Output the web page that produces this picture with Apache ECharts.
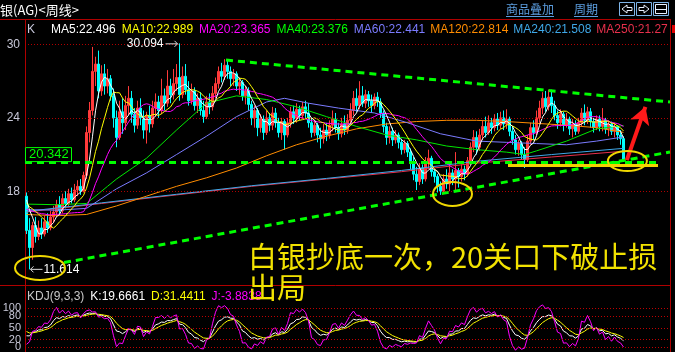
<!DOCTYPE html>
<html><head><meta charset="utf-8">
<script src="https://cdn.jsdelivr.net/npm/echarts@6/dist/echarts.min.js"></script>
<style>html,body{margin:0;padding:0;background:#000;overflow:hidden}#c{width:675px;height:352px}</style>
</head><body><div id="c"></div>
<script>
// ---------------- DATA ----------------
// weekly candles: [open, close, low, high]
const candles = [
[17.6,14.8,14.5,17.9],[14.8,13.4,11.614,15.8],[13.4,15.2,12.4,15.5],[15.2,14.3,13.8,15.9],[14.3,15.0,14.0,15.6],
[15.0,14.5,14.1,15.8],[14.5,15.5,14.3,16.0],[15.5,15.0,14.6,16.2],[15.0,15.9,14.8,16.4],[15.9,16.3,15.4,16.8],
[16.3,16.9,15.9,17.3],[16.9,16.4,16.1,17.6],[16.4,17.4,16.2,17.8],[17.4,17.0,16.6,18.0],[17.0,17.8,16.8,18.2],
[17.8,17.3,17.0,18.3],[17.3,18.1,17.1,18.6],[18.1,18.4,17.6,18.9],[18.4,18.0,17.7,19.0],[18.0,19.3,17.9,19.6],
[19.3,22.8,19.0,23.3],[22.8,24.6,22.0,25.3],[24.6,27.8,24.2,29.8],[27.8,28.4,26.6,29.0],[28.4,26.2,25.6,29.5],
[26.2,27.6,25.8,28.3],[27.6,26.6,25.9,28.4],[26.6,27.2,26.0,28.0],[27.2,25.8,25.4,27.5],[25.8,24.0,23.2,26.4],
[24.0,22.4,21.6,24.6],[22.4,24.5,22.2,25.4],[24.5,23.6,22.7,25.6],[23.6,25.0,23.0,25.8],[25.0,25.6,24.2,26.6],
[25.6,24.3,23.6,26.2],[24.3,23.4,22.8,24.8],[23.4,24.8,23.1,25.4],[24.8,24.0,23.4,25.6],[24.0,23.0,22.3,24.6],
[23.0,24.2,21.9,24.5],[24.2,23.5,22.8,25.0],[23.5,24.8,23.2,25.4],[24.8,25.3,24.1,26.0],[25.3,24.6,24.0,25.8],
[24.6,25.8,24.3,27.2],[25.8,25.2,24.6,26.4],[25.2,26.6,24.9,27.9],[26.6,25.9,25.2,27.2],[25.9,26.8,25.5,28.0],
[26.8,27.3,26.2,28.4],[27.3,25.9,25.4,30.094],[25.9,27.4,25.6,28.2],[27.4,26.3,25.9,28.4],[26.3,25.4,25.0,27.0],
[25.4,26.2,25.1,26.8],[26.2,25.0,24.6,26.5],[25.0,25.6,24.4,26.0],[25.6,24.6,24.2,26.1],[24.6,24.1,23.6,25.4],
[24.1,25.3,23.9,25.8],[25.3,24.9,24.3,26.0],[24.9,26.0,24.6,26.6],[26.0,26.8,25.6,27.3],[26.8,27.8,26.4,28.2],
[27.8,27.4,26.9,28.5],[27.4,28.3,27.1,28.8],[28.3,27.8,27.2,28.7],[27.8,27.2,26.6,28.2],[27.2,27.6,26.6,28.0],
[27.6,26.6,26.2,27.8],[26.6,26.9,25.9,27.3],[26.9,25.8,25.4,27.1],[25.8,26.2,25.1,26.6],[26.2,25.1,24.6,26.5],
[25.1,24.0,23.4,25.4],[24.0,24.6,23.2,25.0],[24.6,23.2,22.5,24.8],[23.2,23.9,22.8,24.3],[23.9,22.8,22.2,24.2],
[22.8,24.0,22.6,24.6],[24.0,23.4,22.9,24.4],[23.4,24.4,23.0,24.9],[24.4,23.6,23.2,24.8],[23.6,22.8,22.4,24.0],
[22.8,23.7,22.2,24.0],[23.7,22.6,21.4,23.9],[22.6,23.6,22.4,24.0],[23.6,24.5,23.2,24.9],[24.5,23.9,23.5,25.0],
[23.9,24.7,23.6,25.2],[24.7,24.2,23.8,25.0],[24.2,24.9,23.9,25.3],[24.9,24.4,24.0,25.4],[24.4,23.6,23.2,25.2],
[23.6,22.8,22.4,24.0],[22.8,23.4,22.5,23.8],[23.4,22.6,22.0,23.6],[22.6,22.3,21.5,23.2],[22.3,23.0,21.9,23.5],
[23.0,22.6,22.1,23.6],[22.6,23.4,22.3,23.8],[23.4,23.9,22.9,24.6],[23.9,23.2,22.8,24.4],[23.2,22.7,22.2,23.6],
[22.7,23.5,22.4,24.0],[23.5,23.0,22.6,24.2],[23.0,23.8,22.7,24.3],[23.8,24.6,23.5,25.2],[24.6,25.6,24.2,26.2],
[25.6,25.0,24.5,26.4],[25.0,25.8,24.7,27.0],[25.8,25.2,24.9,26.6],[25.2,25.9,24.8,26.3],[25.9,25.4,24.9,26.2],
[25.4,25.0,24.4,25.9],[25.0,25.7,24.7,26.0],[25.7,25.3,24.9,26.1],[25.3,24.4,24.0,25.6],[24.4,23.3,22.8,24.6],
[23.3,22.4,21.8,23.6],[22.4,22.9,21.9,23.3],[22.9,22.2,21.7,23.2],[22.2,22.6,21.9,23.0],[22.6,22.0,21.5,22.8],
[22.0,21.4,21.0,22.3],[21.4,21.9,21.1,22.2],[21.9,21.2,20.8,22.1],[21.2,20.4,19.8,21.5],[20.4,19.4,18.9,20.8],
[19.4,18.8,18.1,20.0],[18.8,19.9,18.5,20.3],[19.9,19.0,18.6,20.2],[19.0,20.3,18.8,20.8],[20.3,20.7,19.8,21.4],
[20.7,19.6,19.2,20.9],[19.6,19.2,18.7,19.8],[19.2,18.4,17.9,19.4],[18.4,18.0,17.7,18.8],[18.0,19.0,17.8,19.4],
[19.0,18.6,18.2,19.8],[18.6,19.5,18.0,20.4],[19.5,19.0,18.5,19.8],[19.0,19.7,18.1,21.2],[19.7,19.2,18.3,19.9],
[19.2,19.8,18.8,20.2],[19.8,19.4,18.9,20.1],[19.4,20.5,19.2,20.8],[20.5,21.6,20.2,22.0],[21.6,22.4,21.2,23.0],
[22.4,21.6,21.0,22.9],[21.6,22.6,21.3,23.1],[22.6,23.3,22.2,23.8],[23.3,22.8,22.4,24.1],[22.8,23.6,22.6,24.2],
[23.6,23.2,22.7,24.0],[23.2,23.9,22.9,24.3],[23.9,23.4,23.0,24.4],[23.4,24.0,23.1,24.5],[24.0,23.5,23.0,24.6],
[23.5,23.9,23.1,24.7],[23.9,22.9,22.5,24.1],[22.9,22.2,21.8,23.3],[22.2,21.4,21.0,22.6],[21.4,21.9,20.9,22.2],
[21.9,21.0,20.6,22.1],[21.0,20.6,19.9,21.6],[20.6,22.1,20.4,22.6],[22.1,23.2,21.8,23.6],[23.2,22.8,22.2,23.8],
[22.8,24.0,22.6,24.6],[24.0,24.8,23.6,25.4],[24.8,25.6,24.3,26.1],[25.6,24.9,24.5,26.2],[24.9,25.7,24.6,26.3],
[25.7,25.0,24.4,26.3],[25.0,24.2,23.8,25.4],[24.2,23.6,23.1,24.6],[23.6,24.3,23.3,24.7],[24.3,23.4,22.9,24.5],
[23.4,23.9,23.2,24.4],[23.9,23.1,22.6,24.1],[23.1,23.5,22.4,23.9],[23.5,22.9,22.6,23.8],[22.9,23.6,22.7,24.0],
[23.6,24.4,23.3,24.8],[24.4,23.8,23.4,25.1],[23.8,24.5,23.5,24.9],[24.5,23.7,23.2,24.8],[23.7,23.2,22.8,24.0],
[23.2,23.9,23.0,24.2],[23.9,23.3,22.9,24.2],[23.3,23.8,22.9,24.8],[23.8,23.1,22.7,24.0],[23.1,23.5,22.5,23.8],
[23.5,22.9,22.6,23.7],[22.9,23.3,22.4,23.6],[23.3,22.6,22.2,23.4],[22.6,22.3,21.8,23.0],[22.3,20.6,20.4,22.5]
];
// closes of the 19 weeks before the first visible candle (seed for short MAs)
const preCloses = [16.2,15.8,16.0,16.4,15.7,15.9,16.3,16.1,15.9,16.2,16.6,16.9,16.4,17.0,17.1,17.6,18.1,17.9,18.1];
// long moving averages: [week index, value]
const ma40 = [[0,16.95],[10,16.9],[20,17.0],[27,18.4],[30,19.0],[40,20.7],[50,23.0],[60,25.2],[70,25.8],[80,25.5],[90,24.9],[100,24.1],[110,23.3],[120,22.6],[130,22.2],[140,21.7],[150,21.4],[160,21.2],[166,21.0],[170,21.3],[180,22.1],[190,23.1],[199,23.376]];
const ma60 = [[0,16.5],[10,16.45],[20,16.6],[30,18.2],[40,19.5],[50,21.0],[60,22.5],[70,24.1],[80,25.3],[86,25.6],[94,25.2],[104,24.8],[116,24.4],[127,23.6],[138,22.7],[150,22.1],[160,22.0],[170,21.9],[180,21.8],[190,22.1],[199,22.441]];
const ma120 = [[0,16.1],[10,16.0],[20,16.1],[30,16.8],[40,17.6],[50,18.4],[60,19.1],[70,19.9],[80,20.9],[90,21.8],[100,22.5],[110,23.1],[120,23.5],[130,23.7],[140,23.8],[150,23.8],[160,23.7],[170,23.55],[180,23.4],[190,23.2],[199,22.814]];
const ma240 = [[0,16.35],[25,17.05],[50,17.75],[75,18.45],[100,19.05],[125,19.7],[150,20.45],[175,21.0],[199,21.508]];
const ma250 = [[0,16.3],[25,17.0],[50,17.7],[75,18.4],[100,19.0],[125,19.6],[150,20.3],[175,20.8],[199,21.27]];
const kdjSeed = [40, 46];           // K, D before first week
const priceTicks = [18, 24, 30];
const kdjTicks = [0, 20, 50, 80, 100];
const supportLevel = 20.342;
const highValue = 30.094, lowValue = 11.614;
const legendItems = [
  ['K', '#c8c8dc'], ['MA5:22.496', '#ffffff'], ['MA10:22.989', '#ffff00'], ['MA20:23.365', '#ff00ff'],
  ['MA40:23.376', '#00ff00'], ['MA60:22.441', '#7b7bff'], ['MA120:22.814', '#ff8c00'],
  ['MA240:21.508', '#3fa8e8'], ['MA250:21.27', '#e8304c']
];
const kdjLegend = [['KDJ(9,3,3)', '#c8c8c8'], ['K:19.6661', '#ffffff'], ['D:31.4411', '#ffff00'], ['J:-3.8838', '#ff00ff']];
const titleText = '银(AG)<周线>';
const noteText = '白银抄底一次，20关口下破止损\n出局';
const padWeeks = 15;

// ---------------- DERIVED ----------------
const nCat = candles.length + padWeeks;
const categories = Array.from({length: nCat}, (_, i) => String(i + 1));
const closes = candles.map(c => c[1]);
const allCloses = preCloses.concat(closes);
function movingAvg(n) {
  const out = [];
  for (let i = 0; i < closes.length; i++) {
    const j = i + preCloses.length;
    if (j - n + 1 < 0) continue;
    let s = 0;
    for (let k = j - n + 1; k <= j; k++) s += allCloses[k];
    out.push([i, s / n]);
  }
  return out;
}
function calcKDJ() {
  let K = kdjSeed[0], D = kdjSeed[1];
  const ks = [], ds = [], js = [];
  for (let i = 0; i < candles.length; i++) {
    let lo = Infinity, hi = -Infinity;
    for (let k = Math.max(0, i - 8); k <= i; k++) { lo = Math.min(lo, candles[k][2]); hi = Math.max(hi, candles[k][3]); }
    const rsv = hi > lo ? (candles[i][1] - lo) / (hi - lo) * 100 : 50;
    K = K * 2 / 3 + rsv / 3; D = D * 2 / 3 + K / 3;
    ks.push([i, K]); ds.push([i, D]); js.push([i, 3 * K - 2 * D]);
  }
  return {ks, ds, js};
}
const kdj = calcKDJ();
const hiIdx = candles.findIndex(c => c[3] === highValue);
const loIdx = candles.findIndex(c => c[2] === lowValue);

// ---------------- CHART ----------------
const chart = echarts.init(document.getElementById('c'));
const lineS = (name, data, color, z) => ({
  name, type: 'line', data, xAxisIndex: 1, yAxisIndex: 0, symbol: 'none', smooth: false,
  lineStyle: {color, width: 1}, silent: true, animation: false, z: z || 3
});
const green = '#00ff00';
const dash = {color: green, width: 3, type: [7, 5]};
chart.setOption({
  backgroundColor: '#000',
  animation: false,
  grid: [
    {left: 25, width: 645, top: 21, height: 264},
    {left: 25, width: 645, top: 287, height: 65}
  ],
  xAxis: [
    {type: 'category', gridIndex: 0, data: categories, boundaryGap: true, show: false},
    {type: 'value', gridIndex: 0, min: -0.5, max: nCat - 0.5, show: false},
    {type: 'value', gridIndex: 1, min: -0.5, max: nCat - 0.5, show: false}
  ],
  yAxis: [
    {type: 'value', gridIndex: 0, min: 10.335, max: 31.92, splitLine: {show: false},
     axisLine: {show: false}, axisTick: {show: false},
     axisLabel: {customValues: priceTicks, hideOverlap: false, color: '#c8c8d8', fontSize: 12, fontFamily: 'Liberation Sans', margin: 5}},
    {type: 'value', gridIndex: 1, min: -12, max: 154.6, splitLine: {show: false},
     axisLine: {show: false}, axisTick: {show: false}, axisLabel: {show: false}}
  ],
  series: [
    {type: 'line', name: 'grid', xAxisIndex: 1, yAxisIndex: 0, data: [], silent: true, z: 1,
     markLine: {silent: true, symbol: 'none', label: {show: false},
       lineStyle: {color: '#b00000', width: 1, type: [1, 2]},
       data: priceTicks.map(v => ({yAxis: v}))}},
    {type: 'line', name: 'kgrid', xAxisIndex: 2, yAxisIndex: 1, data: [], silent: true, z: 1,
     markLine: {silent: true, symbol: 'none', label: {show: false},
       lineStyle: {color: '#c00000', width: 1, type: [1, 2]},
       data: kdjTicks.map(v => ({yAxis: v}))}},
    {type: 'candlestick', name: 'K', xAxisIndex: 0, yAxisIndex: 0, data: candles, barWidth: 2, z: 2,
     itemStyle: {color: '#ff3a3a', color0: '#00ffff', borderColor: '#ff3a3a', borderColor0: '#00ffff', borderWidth: 1}},
    lineS('MA250', ma250, '#e8304c'),
    lineS('MA240', ma240, '#3fa8e8'),
    lineS('MA120', ma120, '#ff8c00'),
    lineS('MA60', ma60, '#7b7bff'),
    lineS('MA40', ma40, '#00e800'),
    lineS('MA20', movingAvg(20), '#ff00ff'),
    lineS('MA10', movingAvg(10), '#ffff00'),
    lineS('MA5', movingAvg(5), '#ffffff'),
    {type: 'line', name: 'K', xAxisIndex: 2, yAxisIndex: 1, data: kdj.ks, symbol: 'none', lineStyle: {color: '#ffffff', width: 1}, z: 3},
    {type: 'line', name: 'D', xAxisIndex: 2, yAxisIndex: 1, data: kdj.ds, symbol: 'none', lineStyle: {color: '#ffff00', width: 1}, z: 3},
    {type: 'line', name: 'J', xAxisIndex: 2, yAxisIndex: 1, data: kdj.js, symbol: 'none', lineStyle: {color: '#ff00ff', width: 1}, z: 3},
    {type: 'line', name: 'annot', xAxisIndex: 1, yAxisIndex: 0, data: [], silent: true, z: 6,
     markLine: {silent: true, symbol: 'none', label: {show: false}, animation: false,
       data: [
         [{coord: [-0.5, supportLevel], lineStyle: dash}, {coord: [211, supportLevel]}],
         [{coord: [66.5, 28.73], lineStyle: dash}, {coord: [214.5, 25.30]}],
         [{coord: [12.5, 12.17], lineStyle: dash}, {coord: [214.5, 21.21]}],
         [{coord: [160.5, 20.15], lineStyle: {color: '#f5d000', width: 3, type: 'solid'}}, {coord: [210.5, 20.15]}],
         [{coord: [200.1, 20.55], lineStyle: {color: '#ff1a1a', width: 4, type: 'solid'}, symbol: 'none'},
          {coord: [206.3, 24.9], symbol: 'arrow', symbolSize: [15, 17]}]
       ]}}
  ]
});

// ---------------- OVERLAYS ----------------
const px = (i, v) => chart.convertToPixel({xAxisIndex: 1, yAxisIndex: 0}, [i, v]);
const font = 'Liberation Sans, Arial, sans-serif';
const cjk = '"Noto Sans CJK SC", sans-serif';
const red = '#b00000';
const g = [];
// frame
g.push({type: 'line', shape: {x1: 0, y1: 19.5, x2: 671, y2: 19.5}, style: {stroke: red, lineWidth: 1}});
g.push({type: 'line', shape: {x1: 0, y1: 285.5, x2: 671, y2: 285.5}, style: {stroke: red, lineWidth: 1}});
g.push({type: 'line', shape: {x1: 25.5, y1: 19.5, x2: 25.5, y2: 352}, style: {stroke: red, lineWidth: 1}});
g.push({type: 'line', shape: {x1: 670.5, y1: 19.5, x2: 670.5, y2: 352}, style: {stroke: red, lineWidth: 1}});
g.push({type: 'rect', shape: {x: 672, y: 25, width: 3, height: 8}, style: {fill: '#e00000'}});
// KDJ axis labels (they overlap in the original, so drawn directly at their axis positions)
kdjTicks.forEach(v => {
  const p = chart.convertToPixel({xAxisIndex: 2, yAxisIndex: 1}, [0, v]);
  g.push({type: 'text', x: 21, y: p[1], style: {text: String(v), fill: '#c8c8d8', font: '11px ' + font, align: 'right', verticalAlign: 'middle'}});
});
// header
g.push({type: 'text', x: 0, y: 10, style: {text: titleText, fill: '#ffffff', font: '13px ' + cjk, verticalAlign: 'middle'}});
const blue = '#5c9ee0';
g.push({type: 'text', x: 506, y: 9, style: {text: '商品叠加', fill: blue, font: '12px ' + cjk, verticalAlign: 'middle'}});
g.push({type: 'line', shape: {x1: 506, y1: 16.5, x2: 554, y2: 16.5}, style: {stroke: blue, lineWidth: 1}});
g.push({type: 'text', x: 574, y: 9, style: {text: '周期', fill: blue, font: '12px ' + cjk, verticalAlign: 'middle'}});
g.push({type: 'line', shape: {x1: 574, y1: 16.5, x2: 598, y2: 16.5}, style: {stroke: blue, lineWidth: 1}});
[619, 636, 653].forEach(x0 => g.push({type: 'rect', shape: {x: x0 + 0.5, y: 2.5, width: 15, height: 13}, style: {fill: null, stroke: '#7fb4e8', lineWidth: 1}}));
g.push({type: 'polygon', shape: {points: [[622, 9], [627, 5], [627, 7.5], [632, 7.5], [632, 10.5], [627, 10.5], [627, 13]]}, style: {fill: null, stroke: '#e8f0ff', lineWidth: 1}});
g.push({type: 'polygon', shape: {points: [[649, 9], [644, 5], [644, 7.5], [639, 7.5], [639, 10.5], [644, 10.5], [644, 13]]}, style: {fill: null, stroke: '#e8f0ff', lineWidth: 1}});
g.push({type: 'rect', shape: {x: 655.5, y: 4.5, width: 11, height: 9}, style: {fill: null, stroke: '#e8f0ff', lineWidth: 1}});
g.push({type: 'line', shape: {x1: 655.5, y1: 9.5, x2: 666.5, y2: 9.5}, style: {stroke: '#e8f0ff', lineWidth: 1}});
// legend row
let lx = 27;
const gaps = [16, 6, 6, 6, 6, 5, 5, 5];
const ctx = document.createElement('canvas').getContext('2d');
ctx.font = '12px ' + font;
legendItems.forEach((it, k) => {
  g.push({type: 'text', x: lx, y: 30, style: {text: it[0], fill: it[1], font: '12px ' + font, verticalAlign: 'middle'}});
  lx += ctx.measureText(it[0]).width + (gaps[k] || 5);
});
// KDJ legend
let kx = 27;
kdjLegend.forEach((it, k) => {
  g.push({type: 'text', x: kx, y: 297, style: {text: it[0], fill: it[1], font: '12px ' + font, verticalAlign: 'middle'}});
  kx += ctx.measureText(it[0]).width + 6;
});
// support label box
const sp = px(0, supportLevel);
g.push({type: 'rect', z: 20, shape: {x: 25.5, y: sp[1] - 15, width: 46, height: 14}, style: {fill: '#000', stroke: green, lineWidth: 1}});
g.push({type: 'text', z: 21, x: 29, y: sp[1] - 8, style: {text: String(supportLevel), fill: green, font: '13px ' + font, verticalAlign: 'middle'}});
// high label
const hp = px(hiIdx, highValue);
g.push({type: 'text', z: 20, x: hp[0] - 16, y: hp[1] + 0.5, style: {text: highValue.toFixed(3), fill: '#ffffff', font: '12px ' + font, align: 'right', verticalAlign: 'middle'}});
g.push({type: 'line', z: 20, shape: {x1: hp[0] - 14, y1: hp[1] + 0.5, x2: hp[0] - 2, y2: hp[1] + 0.5}, style: {stroke: '#ddd', lineWidth: 1}});
g.push({type: 'polyline', z: 20, shape: {points: [[hp[0] - 5, hp[1] - 2.5], [hp[0] - 2, hp[1] + 0.5], [hp[0] - 5, hp[1] + 3.5]]}, style: {stroke: '#ddd', lineWidth: 1, fill: null}});
// low label
const lp = px(loIdx, lowValue);
g.push({type: 'line', z: 20, shape: {x1: lp[0] + 1, y1: lp[1], x2: lp[0] + 13, y2: lp[1]}, style: {stroke: '#ddd', lineWidth: 1}});
g.push({type: 'polyline', z: 20, shape: {points: [[lp[0] + 4, lp[1] - 3], [lp[0] + 1, lp[1]], [lp[0] + 4, lp[1] + 3]]}, style: {stroke: '#ddd', lineWidth: 1, fill: null}});
g.push({type: 'text', z: 20, x: lp[0] + 14, y: lp[1], style: {text: lowValue.toFixed(3), fill: '#ffffff', font: '12px ' + font, verticalAlign: 'middle'}});
// ellipses
const yellow = '#f0d800';
[[4.5, 11.73, 25, 12], [142, 17.78, 19.5, 12], [200.3, 20.47, 19.5, 10]].forEach(e => {
  const c = px(e[0], e[1]);
  g.push({type: 'ellipse', z: 22, shape: {cx: c[0], cy: c[1], rx: e[2], ry: e[3]}, style: {fill: null, stroke: yellow, lineWidth: 2}});
});
// note text
g.push({type: 'text', z: 30, x: 248, y: 241, style: {text: noteText, fill: '#f2e200', font: '29px ' + cjk, lineHeight: 31, verticalAlign: 'top'}});
chart.setOption({graphic: {elements: g}});
</script>
</body></html>
